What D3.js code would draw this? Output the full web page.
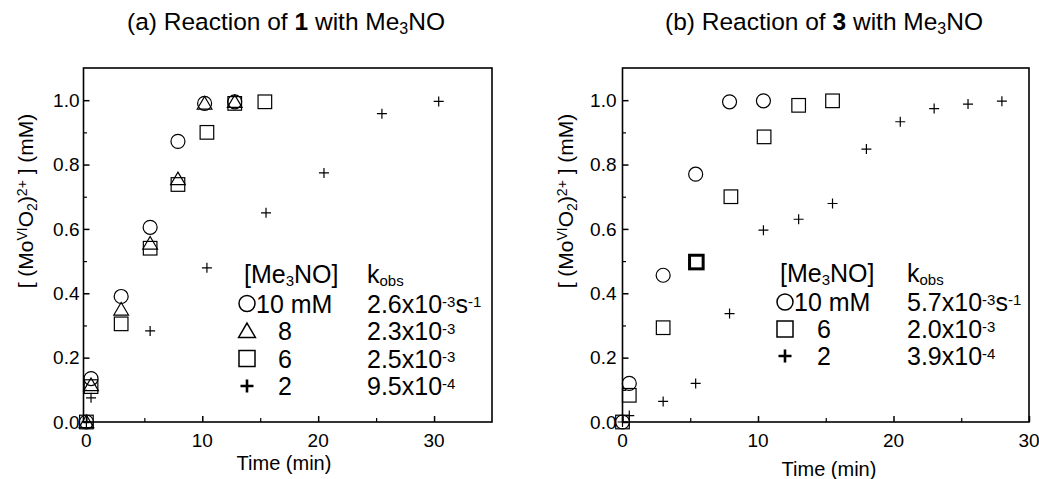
<!DOCTYPE html>
<html>
<head>
<meta charset="utf-8">
<script src="https://cdn.jsdelivr.net/npm/d3@7"></script>
<style>
  body { margin: 0; background: #fff; }
  svg { font-family: "Liberation Sans", Arial, Helvetica, sans-serif; }
</style>
</head>
<body>
<svg id="chart" width="1039" height="479"></svg>
<script>
// panel (a): reaction of 1 with Me3NO
const timeA_circle = [0, 0.4, 3, 5.5, 7.9, 10.2, 12.8];
const valA_circle  = [0, 0.135, 0.39, 0.605, 0.872, 0.99, 0.995];
const timeA_tri    = [0, 0.4, 3, 5.5, 7.9, 10.2, 12.8];
const valA_tri     = [0, 0.115, 0.35, 0.555, 0.755, 0.99, 0.995];
const timeA_sq     = [0, 0.4, 3, 5.5, 7.9, 10.4, 12.8, 15.4];
const valA_sq      = [0, 0.11, 0.305, 0.54, 0.738, 0.9, 0.99, 0.995];
const timeA_plus   = [0, 0.4, 5.5, 10.4, 15.5, 20.5, 25.5, 30.4];
const valA_plus    = [0, 0.075, 0.283, 0.479, 0.65, 0.774, 0.958, 0.996];

// panel (b): reaction of 3 with Me3NO
const timeB_circle = [0, 0.5, 3, 5.4, 7.9, 10.4];
const valB_circle  = [0, 0.12, 0.456, 0.77, 0.995, 0.998];
const timeB_sq     = [0, 0.5, 3, 5.45, 8, 10.45, 13, 15.5];
const valB_sq      = [0, 0.083, 0.293, 0.497, 0.70, 0.886, 0.984, 0.998];
const timeB_plus   = [0, 0.5, 3, 5.4, 7.9, 10.4, 13, 15.5, 18, 20.5, 23, 25.5, 28];
const valB_plus    = [0, 0.02, 0.064, 0.12, 0.337, 0.596, 0.63, 0.679, 0.848, 0.933, 0.974, 0.988, 0.997];

// legends
const concA = ["10 mM", "8", "6", "2"];
const kobsA = ["2.6", "2.3", "2.5", "9.5"];
const expA  = ["-3", "-3", "-3", "-4"];
const concB = ["10 mM", "6", "2"];
const kobsB = ["5.7", "2.0", "3.9"];
const expB  = ["-3", "-3", "-4"];

const yTicks = [0, 0.2, 0.4, 0.6, 0.8, 1.0];
const yMinor = [0.1, 0.3, 0.5, 0.7, 0.9];
const xTicks = [0, 10, 20, 30];
const xMinor = [5, 15, 25];

const svg = d3.select("#chart");
const plotTop = 68, plotBottom = 422;
const legFont = 25, supFont = 15;

function zip(t, v) { return t.map((d, i) => ({t: d, v: v[i]})); }

function symbol(g, type, x, y, s, sw) {
  if (type === "circle") {
    g.append("circle").attr("cx", x).attr("cy", y).attr("r", s)
      .attr("fill", "none").attr("stroke", "#000").attr("stroke-width", sw);
  } else if (type === "square") {
    g.append("rect").attr("x", x - s).attr("y", y - s).attr("width", 2 * s).attr("height", 2 * s)
      .attr("fill", "none").attr("stroke", "#000").attr("stroke-width", sw);
  } else if (type === "tri") {
    let h = s * 1.8;
    g.append("path")
      .attr("d", `M${x},${y - h * 0.55}L${x + s * 1.05},${y + h * 0.45}L${x - s * 1.05},${y + h * 0.45}Z`)
      .attr("fill", "none").attr("stroke", "#000").attr("stroke-width", sw);
  } else {
    g.append("path").attr("d", `M${x - s},${y}H${x + s}M${x},${y - s}V${y + s}`)
      .attr("stroke", "#000").attr("stroke-width", sw);
  }
}

function drawPanel(opt) {
  let g = svg.append("g");
  let x = d3.scaleLinear().domain(opt.xDomain).range([opt.left, opt.right]);
  let y = d3.scaleLinear().domain([0, 1.1]).range([plotBottom, plotTop]);

  // frame
  g.append("rect").attr("x", opt.left).attr("y", plotTop)
    .attr("width", opt.right - opt.left).attr("height", plotBottom - plotTop)
    .attr("fill", "none").attr("stroke", "#000").attr("stroke-width", 1.6);

  // y axis, ticks pointing inward
  let ay = g.append("g").attr("transform", `translate(${opt.left},0)`)
    .call(d3.axisRight(y).tickValues(yTicks).tickSize(6).tickFormat(""));
  ay.select(".domain").remove();
  ay.selectAll("line").attr("stroke-width", 1.5);
  g.append("g").attr("transform", `translate(${opt.left},0)`)
    .call(d3.axisRight(y).tickValues(yMinor).tickSize(3.5).tickFormat(""))
    .call(s => s.select(".domain").remove())
    .selectAll("line").attr("stroke-width", 1.2);
  g.append("g").selectAll("text").data(yTicks).join("text")
    .attr("x", opt.left - opt.ylabGap).attr("y", d => y(d)).attr("dy", "0.36em")
    .attr("text-anchor", "end").attr("font-size", 19).text(d3.format(".1f"));

  // x axis, ticks pointing inward
  let ax = g.append("g").attr("transform", `translate(0,${plotBottom})`)
    .call(d3.axisTop(x).tickValues(xTicks).tickSize(6).tickFormat(""));
  ax.select(".domain").remove();
  ax.selectAll("line").attr("stroke-width", 1.5);
  g.append("g").attr("transform", `translate(0,${plotBottom})`)
    .call(d3.axisTop(x).tickValues(xMinor).tickSize(4).tickFormat(""))
    .call(s => s.select(".domain").remove())
    .selectAll("line").attr("stroke-width", 1.2);
  g.append("g").selectAll("text").data(xTicks).join("text")
    .attr("x", d => x(d)).attr("y", plotBottom + 25)
    .attr("text-anchor", "middle").attr("font-size", 19).text(d => d);

  g.append("text").attr("x", opt.timeX).attr("y", opt.timeY)
    .attr("text-anchor", "middle").attr("font-size", 20).text("Time (min)");

  // y title
  let yt = g.append("text")
    .attr("transform", `translate(${opt.ytX},201) rotate(-90)`)
    .attr("text-anchor", "middle").attr("font-size", 21);
  yt.append("tspan").text("[ (Mo");
  yt.append("tspan").attr("baseline-shift", "45%").attr("font-size", 14).text("VI");
  yt.append("tspan").text("O");
  yt.append("tspan").attr("baseline-shift", "-25%").attr("font-size", 14).text("2");
  yt.append("tspan").text(")");
  yt.append("tspan").attr("baseline-shift", "45%").attr("font-size", 14).text("2+");
  yt.append("tspan").text(" ] (mM)");

  // title
  let tt = g.append("text").attr("x", opt.titleX).attr("y", 30)
    .attr("text-anchor", "middle").attr("font-size", 24.5);
  tt.append("tspan").text(opt.titleA);
  tt.append("tspan").attr("font-weight", "bold").text(opt.titleB);
  tt.append("tspan").text(" with Me");
  tt.append("tspan").attr("baseline-shift", "-25%").attr("font-size", 16).text("3");
  tt.append("tspan").text("NO");

  // data
  let pts = g.append("g");
  opt.series.forEach(s => {
    zip(s.t, s.v).forEach((d, i) => {
      let sw = (s.heavy && s.heavy.includes(i)) ? 3 : 1.2;
      symbol(pts, s.type, x(d.t), y(d.v), s.size, sw);
    });
  });

  // legend
  let lg = g.append("g");
  let kx = opt.kobsX;
  let headY = opt.legY - 2;
  let h = lg.append("text").attr("x", opt.legX).attr("y", headY).attr("font-size", legFont);
  h.append("tspan").text("[Me");
  h.append("tspan").attr("baseline-shift", "-20%").attr("font-size", supFont).text("3");
  h.append("tspan").text("NO]");
  let k = lg.append("text").attr("x", kx).attr("y", headY).attr("font-size", legFont);
  k.append("tspan").text("k");
  k.append("tspan").attr("baseline-shift", "-20%").attr("font-size", supFont).text("obs");

  opt.conc.forEach((c, i) => {
    let yy = opt.legY + opt.legStep * (i + 1);
    let t = opt.legTypes[i];
    symbol(lg, t, opt.symX, yy - 9, t === "plus" ? 6.5 : 8, t === "plus" ? 2.6 : 1.5);
    lg.append("text").attr("x", i === 0 ? opt.concX0 : opt.concX).attr("y", yy)
      .attr("font-size", legFont).text(c);
    let v = lg.append("text").attr("x", kx).attr("y", yy).attr("font-size", legFont);
    v.append("tspan").text(opt.kobs[i] + "x10");
    v.append("tspan").attr("baseline-shift", "42%").attr("font-size", supFont).text(opt.exp[i]);
    if (i === 0) {
      v.append("tspan").attr("baseline-shift", "0%").text("s");
      v.append("tspan").attr("baseline-shift", "42%").attr("font-size", supFont).text("-1");
    }
  });
}

drawPanel({
  left: 83.5, right: 492, xDomain: [-0.25, 35], ylabGap: 4, ytX: 33,
  timeX: 284, timeY: 470, titleX: 286, titleA: "(a) Reaction of ", titleB: "1",
  series: [
    {type: "circle", t: timeA_circle, v: valA_circle, size: 7},
    {type: "tri", t: timeA_tri, v: valA_tri, size: 7},
    {type: "square", t: timeA_sq, v: valA_sq, size: 6.8},
    {type: "plus", t: timeA_plus, v: valA_plus, size: 5}
  ],
  legX: 244, kobsX: 367, legY: 285, legStep: 27.5, symX: 247,
  concX0: 256, concX: 278,
  legTypes: ["circle", "tri", "square", "plus"],
  conc: concA, kobs: kobsA, exp: expA
});

drawPanel({
  left: 622.5, right: 1029, xDomain: [0, 30], ylabGap: 6, ytX: 573,
  timeX: 829, timeY: 476, titleX: 824, titleA: "(b) Reaction of ", titleB: "3",
  series: [
    {type: "circle", t: timeB_circle, v: valB_circle, size: 7},
    {type: "square", t: timeB_sq, v: valB_sq, size: 6.8, heavy: [3]},
    {type: "plus", t: timeB_plus, v: valB_plus, size: 5}
  ],
  legX: 780, kobsX: 907, legY: 284, legStep: 27, symX: 785,
  concX0: 794, concX: 817,
  legTypes: ["circle", "square", "plus"],
  conc: concB, kobs: kobsB, exp: expB
});
</script>
</body>
</html>
